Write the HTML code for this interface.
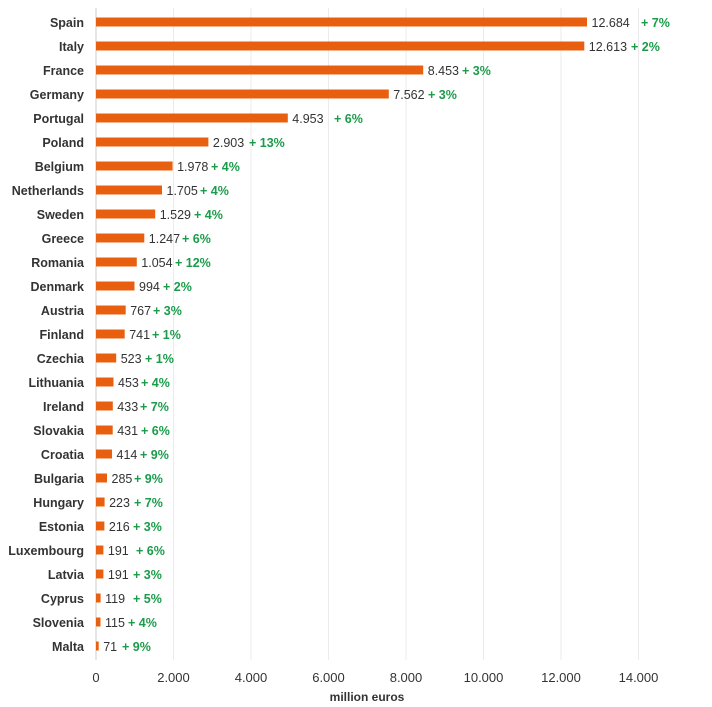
<!DOCTYPE html>
<html><head><meta charset="utf-8"><style>body{margin:0;background:#fff}svg{display:block}</style></head><body>
<svg width="712" height="707" xmlns="http://www.w3.org/2000/svg" font-family="Liberation Sans, sans-serif">
<g stroke="#ebebeb" stroke-width="1">
<line x1="173.5" y1="8" x2="173.5" y2="660"/><line x1="251" y1="8" x2="251" y2="660"/><line x1="328.5" y1="8" x2="328.5" y2="660"/><line x1="406" y1="8" x2="406" y2="660"/><line x1="483.5" y1="8" x2="483.5" y2="660"/><line x1="561" y1="8" x2="561" y2="660"/><line x1="638.5" y1="8" x2="638.5" y2="660"/>
</g>
<line x1="96" y1="8" x2="96" y2="660" stroke="#ccc"/>
<g font-size="12.5" font-weight="bold" fill="#333" text-anchor="end">
<text x="84" y="27">Spain</text><text x="84" y="51">Italy</text><text x="84" y="75">France</text><text x="84" y="99">Germany</text><text x="84" y="123">Portugal</text><text x="84" y="147">Poland</text><text x="84" y="171">Belgium</text><text x="84" y="195">Netherlands</text><text x="84" y="219">Sweden</text><text x="84" y="243">Greece</text><text x="84" y="267">Romania</text><text x="84" y="291">Denmark</text><text x="84" y="315">Austria</text><text x="84" y="339">Finland</text><text x="84" y="363">Czechia</text><text x="84" y="387">Lithuania</text><text x="84" y="411">Ireland</text><text x="84" y="435">Slovakia</text><text x="84" y="459">Croatia</text><text x="84" y="483">Bulgaria</text><text x="84" y="507">Hungary</text><text x="84" y="531">Estonia</text><text x="84" y="555">Luxembourg</text><text x="84" y="579">Latvia</text><text x="84" y="603">Cyprus</text><text x="84" y="627">Slovenia</text><text x="84" y="651">Malta</text>
</g>
<g fill="#e8600f">
<rect x="96" y="17.5" width="491" height="9"/><rect x="96" y="41.5" width="488.3" height="9"/><rect x="96" y="65.5" width="327.2" height="9"/><rect x="96" y="89.5" width="292.8" height="9"/><rect x="96" y="113.5" width="191.8" height="9"/><rect x="96" y="137.5" width="112.4" height="9"/><rect x="96" y="161.5" width="76.6" height="9"/><rect x="96" y="185.5" width="66" height="9"/><rect x="96" y="209.5" width="59.2" height="9"/><rect x="96" y="233.5" width="48.3" height="9"/><rect x="96" y="257.5" width="40.8" height="9"/><rect x="96" y="281.5" width="38.5" height="9"/><rect x="96" y="305.5" width="29.7" height="9"/><rect x="96" y="329.5" width="28.7" height="9"/><rect x="96" y="353.5" width="20.2" height="9"/><rect x="96" y="377.5" width="17.5" height="9"/><rect x="96" y="401.5" width="16.8" height="9"/><rect x="96" y="425.5" width="16.7" height="9"/><rect x="96" y="449.5" width="16" height="9"/><rect x="96" y="473.5" width="11" height="9"/><rect x="96" y="497.5" width="8.6" height="9"/><rect x="96" y="521.5" width="8.4" height="9"/><rect x="96" y="545.5" width="7.4" height="9"/><rect x="96" y="569.5" width="7.4" height="9"/><rect x="96" y="593.5" width="4.6" height="9"/><rect x="96" y="617.5" width="4.5" height="9"/><rect x="96" y="641.5" width="2.7" height="9"/>
</g>
<g font-size="12.5" fill="#333">
<text x="591.5" y="27">12.684</text><text x="588.8" y="51">12.613</text><text x="427.7" y="75">8.453</text><text x="393.3" y="99">7.562</text><text x="292.3" y="123">4.953</text><text x="212.9" y="147">2.903</text><text x="177.1" y="171">1.978</text><text x="166.5" y="195">1.705</text><text x="159.7" y="219">1.529</text><text x="148.8" y="243">1.247</text><text x="141.3" y="267">1.054</text><text x="139" y="291">994</text><text x="130.2" y="315">767</text><text x="129.2" y="339">741</text><text x="120.7" y="363">523</text><text x="118" y="387">453</text><text x="117.3" y="411">433</text><text x="117.2" y="435">431</text><text x="116.5" y="459">414</text><text x="111.5" y="483">285</text><text x="109.1" y="507">223</text><text x="108.9" y="531">216</text><text x="107.9" y="555">191</text><text x="107.9" y="579">191</text><text x="105.1" y="603">119</text><text x="105" y="627">115</text><text x="103.2" y="651">71</text>
</g>
<g font-size="12.5" font-weight="bold" fill="#1a9c4a">
<text x="641" y="27">+ 7%</text><text x="631" y="51">+ 2%</text><text x="462" y="75">+ 3%</text><text x="428" y="99">+ 3%</text><text x="334" y="123">+ 6%</text><text x="249" y="147">+ 13%</text><text x="211" y="171">+ 4%</text><text x="200" y="195">+ 4%</text><text x="194" y="219">+ 4%</text><text x="182" y="243">+ 6%</text><text x="175" y="267">+ 12%</text><text x="163" y="291">+ 2%</text><text x="153" y="315">+ 3%</text><text x="152" y="339">+ 1%</text><text x="145" y="363">+ 1%</text><text x="141" y="387">+ 4%</text><text x="140" y="411">+ 7%</text><text x="141" y="435">+ 6%</text><text x="140" y="459">+ 9%</text><text x="134" y="483">+ 9%</text><text x="134" y="507">+ 7%</text><text x="133" y="531">+ 3%</text><text x="136" y="555">+ 6%</text><text x="133" y="579">+ 3%</text><text x="133" y="603">+ 5%</text><text x="128" y="627">+ 4%</text><text x="122" y="651">+ 9%</text>
</g>
<g font-size="13" fill="#333" text-anchor="middle">
<text x="96" y="682">0</text><text x="173.5" y="682">2.000</text><text x="251" y="682">4.000</text><text x="328.5" y="682">6.000</text><text x="406" y="682">8.000</text><text x="483.5" y="682">10.000</text><text x="561" y="682">12.000</text><text x="638.5" y="682">14.000</text>
<text x="367" y="701" font-weight="bold" font-size="12">million euros</text>
</g>
</svg>
</body></html>
